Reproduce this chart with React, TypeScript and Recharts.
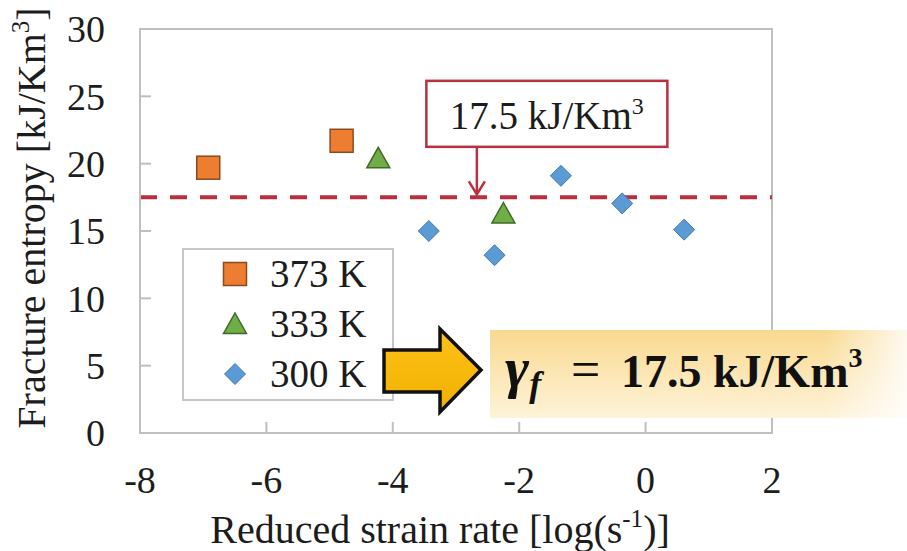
import React from "react";
import {
  ScatterChart,
  Scatter,
  XAxis,
  YAxis,
  ReferenceLine,
  ReferenceDot,
  ReferenceArea,
  Legend,
} from "recharts";

// values
const x373 = [-6.92, -4.81];
const y373 = [19.7, 21.7];
const x333 = [-4.23, -2.25];
const y333 = [20.4, 16.3];
const x300 = [-3.43, -2.39, -1.34, -0.37, 0.61];
const y300 = [15.0, 13.2, 19.1, 17.05, 15.1];

const seriesNames = ["373 K", "333 K", "300 K"];
const xTicks = [-8, -6, -4, -2, 0, 2];
const yTicks = [0, 5, 10, 15, 20, 25, 30];
const fractureEntropy = 17.5;
const arrowAtX = -2.67;

const FONT = "'Liberation Serif', serif";
const TEXT = "#1c1c1c";
const AXIS = "#bfbfbf";
const LINE_RED = "#b8303d";

const toPoints = (xs: number[], ys: number[]) => xs.map((x, i) => ({ x, y: ys[i] }));

const Square = ({ cx, cy }: any) => (
  <rect x={cx - 11.5} y={cy - 11.5} width={23} height={23} fill="#ED7D31" stroke="#8c4a1c" strokeWidth={1.5} />
);
const Triangle = ({ cx, cy }: any) => (
  <polygon
    points={`${cx},${cy - 11} ${cx + 11.5},${cy + 9.5} ${cx - 11.5},${cy + 9.5}`}
    fill="#70AD47"
    stroke="#3f6b26"
    strokeWidth={1.5}
  />
);
const Diamond = ({ cx, cy }: any) => (
  <polygon
    points={`${cx},${cy - 10.5} ${cx + 10.5},${cy} ${cx},${cy + 10.5} ${cx - 10.5},${cy}`}
    fill="#5B9BD5"
    stroke="#4677a8"
    strokeWidth={1}
  />
);
const shapes = [Square, Triangle, Diamond];

const serif = { fontFamily: FONT };

const XTitle = ({ viewBox }: any) => (
  <text x={viewBox.x + 300} y={viewBox.y + 110} textAnchor="middle" style={serif} fontSize={40} fill={TEXT}>
    Reduced strain rate [log(s
    <tspan fontSize={25} dy={-16}>-1</tspan>
    <tspan dy={16}>)]</tspan>
  </text>
);

const YTitle = ({ viewBox }: any) => {
  const cx = viewBox.x + 5;
  const cy = viewBox.y + 189;
  return (
    <text x={cx} y={cy} transform={`rotate(-90, ${cx}, ${cy})`} textAnchor="middle" style={serif} fontSize={40} fill={TEXT}>
      Fracture entropy [kJ/Km
      <tspan fontSize={25} dy={-16}>3</tspan>
      <tspan dy={16}>]</tspan>
    </text>
  );
};

const Callout = ({ cx, cy }: any) => (
  <g>
    <rect x={cx - 50.5} y={cy - 116.5} width={241} height={66} fill="#fff" stroke={LINE_RED} strokeWidth={2.5} />
    <text x={cx + 70} y={cy - 68} textAnchor="middle" style={serif} fontSize={39} fill={TEXT}>
      17.5 kJ/Km
      <tspan fontSize={24} dy={-15}>3</tspan>
    </text>
    <line x1={cx} y1={cy - 50} x2={cx} y2={cy - 4} stroke={LINE_RED} strokeWidth={2.5} />
    <polyline points={`${cx - 8},${cy - 16} ${cx},${cy - 3} ${cx + 8},${cy - 16}`} fill="none" stroke={LINE_RED} strokeWidth={2.5} />
  </g>
);

const LegendBox = () => (
  <svg width={212} height={153} style={{ display: "block" }}>
    <rect x={1} y={1} width={210} height={151} fill="#fff" stroke="#c6c6c6" strokeWidth={2} />
    {seriesNames.map((name, i) => {
      const Shape = shapes[i];
      const cy = 26 + i * 50;
      return (
        <g key={name}>
          <Shape cx={53} cy={cy} />
          <text x={88} y={cy + 13} style={serif} fontSize={39} fill={TEXT}>
            {name}
          </text>
        </g>
      );
    })}
  </svg>
);

export default function App() {
  const tickStyle = { fill: TEXT, fontSize: 38, style: serif };
  return (
    <div style={{ position: "absolute", left: 0, top: 0, width: 907, height: 551, background: "#fff", fontFamily: FONT }}>
      <ScatterChart width={907} height={551} margin={{ top: 29, right: 135, bottom: 58, left: 40 }} style={serif}>
        <ReferenceArea x1={-8} x2={2} y1={0} y2={30} fill="none" stroke={AXIS} strokeWidth={2} />
        <XAxis
          type="number"
          dataKey="x"
          domain={[-8, 2]}
          ticks={xTicks}
          interval={0}
          height={60}
          tickSize={-11}
          tickMargin={44}
          stroke={AXIS}
          strokeWidth={2}
          tick={tickStyle}
          label={{ content: XTitle }}
        />
        <YAxis
          type="number"
          dataKey="y"
          domain={[0, 30]}
          ticks={yTicks}
          interval={0}
          width={100}
          tickSize={-11}
          tickMargin={46}
          stroke={AXIS}
          strokeWidth={2}
          tick={tickStyle}
          label={{ content: YTitle }}
        />
        <ReferenceLine y={fractureEntropy} stroke={LINE_RED} strokeWidth={4} strokeDasharray="17 13" />
        <Scatter name={seriesNames[0]} data={toPoints(x373, y373)} shape={Square} isAnimationActive={false} />
        <Scatter name={seriesNames[1]} data={toPoints(x333, y333)} shape={Triangle} isAnimationActive={false} />
        <Scatter name={seriesNames[2]} data={toPoints(x300, y300)} shape={Diamond} isAnimationActive={false} />
        <ReferenceDot x={arrowAtX} y={fractureEntropy} r={0} shape={Callout} />
        <Legend
          layout="vertical"
          align="center"
          verticalAlign="middle"
          content={LegendBox}
          wrapperStyle={{ left: 182, top: 248, width: 212, height: 153 }}
        />
      </ScatterChart>

      <div
        style={{
          position: "absolute",
          left: 490,
          top: 330,
          width: 417,
          height: 88,
          background:
            "linear-gradient(to right, rgba(255,255,255,0) 80%, rgba(255,255,255,0.85) 100%), linear-gradient(to bottom, #f9d98f, #fef3d9)",
        }}
      >
        <svg width={417} height={88} style={{ display: "block" }}>
          <text y={57} style={serif} fontSize={46} fontWeight="bold" fill="#111">
            <tspan x={15} fontStyle="italic" fontSize={58}>γ</tspan>
            <tspan fontStyle="italic" fontSize={36} dy={9}>f</tspan>
            <tspan x={81} dy={-9} fontWeight="normal" fontSize={52}>=</tspan>
            <tspan x={131}>17.5 kJ/Km</tspan>
            <tspan fontSize={28} dy={-20}>3</tspan>
          </text>
        </svg>
      </div>

      <svg width={907} height={551} style={{ position: "absolute", left: 0, top: 0, pointerEvents: "none" }}>
        <defs>
          <linearGradient id="arrowFill" x1="0" y1="0" x2="0" y2="1">
            <stop offset="0%" stopColor="#ffc21a" />
            <stop offset="100%" stopColor="#f0b000" />
          </linearGradient>
        </defs>
        <polygon
          points="384,350 440,350 440,329 481,370 440,412 440,392 384,392"
          fill="url(#arrowFill)"
          stroke="#111"
          strokeWidth={3.5}
          strokeLinejoin="miter"
        />
      </svg>
    </div>
  );
}
